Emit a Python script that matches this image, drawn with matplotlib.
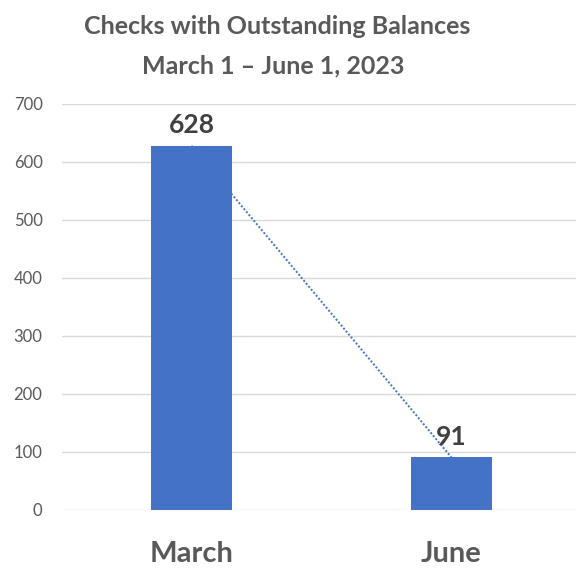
import numpy as np
import matplotlib
matplotlib.use("Agg")
from matplotlib import pyplot as plt

plt.rcParams['font.family'] = ['Lato', 'DejaVu Sans']

months = ['March', 'June']
checks = [628, 91]
y_ticks = [0, 100, 200, 300, 400, 500, 600, 700]

bar_color = '#4472C4'
text_gray = '#595959'

fig = plt.figure(figsize=(5.76, 5.70), dpi=100)
ax = fig.add_axes([62 / 576, 1 - 510 / 570, 1 - 62 / 576, (510 - 104) / 570])

x = np.arange(len(months))
ax.bar(x, checks, width=0.31, color=bar_color, zorder=3)

# linear trendline, sits behind the bars
fit = np.polyfit(x, checks, 1)
ax.plot(x, np.polyval(fit, x), color=bar_color, linestyle=(0, (1, 1)),
        linewidth=1.4, zorder=2)

for xi, v in zip(x, checks):
    ax.annotate(str(v), (xi, v), xytext=(0, 6), textcoords='offset points',
                ha='center', va='bottom', fontsize=19, fontweight='bold',
                color='#404040', zorder=4)

ax.set_xlim(-0.498, 1.48)
ax.set_ylim(0, 700)
ax.set_yticks(y_ticks)
ax.set_xticks(x)
ax.set_xticklabels(months, fontsize=21, fontweight='bold', color=text_gray)
ax.tick_params(axis='y', length=0, pad=14, labelsize=12, labelcolor=text_gray)
ax.tick_params(axis='x', length=0, pad=22)
ax.grid(axis='y', color='#D9D9D9', linewidth=1, zorder=0)
ax.set_axisbelow(True)
for s in ax.spines.values():
    s.set_visible(False)

fig.text(277 / 576, 1 - 26 / 570, 'Checks with Outstanding Balances',
         ha='center', va='center', fontsize=18, fontweight='bold', color=text_gray)
fig.text(273 / 576, 1 - 66 / 570, 'March 1 \u2013 June 1, 2023',
         ha='center', va='center', fontsize=18, fontweight='bold', color=text_gray)

fig.savefig('out.png', dpi=100)
